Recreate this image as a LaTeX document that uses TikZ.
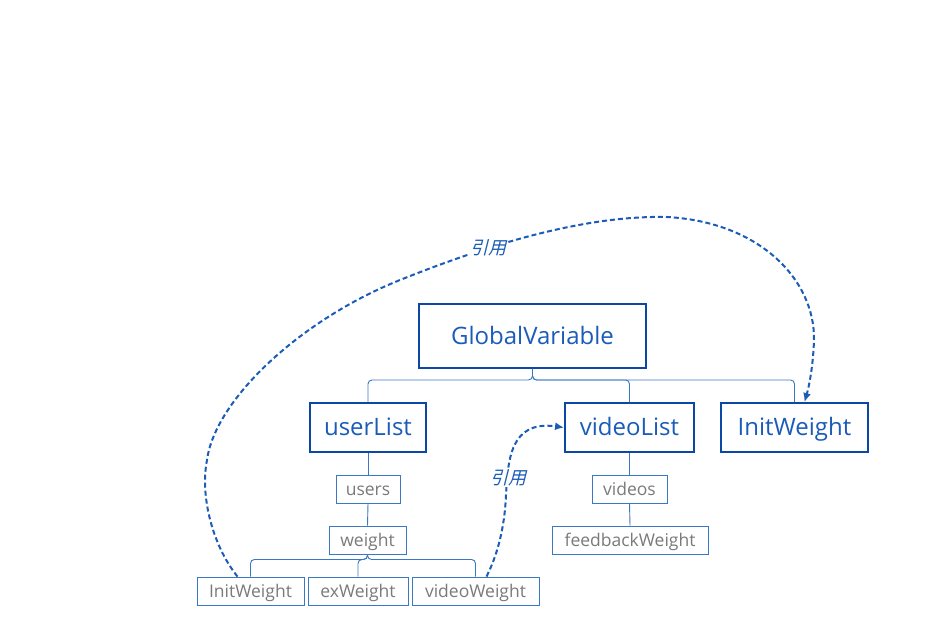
\documentclass[tikz,border=0pt]{standalone}
\usepackage{fontspec}
\setmainfont{Open Sans}
\newfontfamily\cjk[FakeSlant=0.25]{Noto Sans CJK SC}
\usetikzlibrary{arrows.meta,calc}
\definecolor{boxblue}{HTML}{0B47A6}
\definecolor{txtblue}{HTML}{1A5CB8}
\definecolor{lineblue}{HTML}{3A78C4}
\definecolor{txtgray}{HTML}{7A7A7A}
\tikzset{
  bigbox/.style={draw=boxblue,line width=1.9pt,text=txtblue,font=\fontsize{24}{27}\selectfont,inner sep=0pt,text height=20pt,text depth=4pt,anchor=center},
  smallbox/.style={draw=lineblue,line width=0.9pt,text=txtgray,font=\fontsize{17.5}{20}\selectfont,inner sep=0pt,text height=14pt,text depth=2pt,anchor=center},
  tree/.style={draw=lineblue,line width=0.9pt,rounded corners=4pt},
  ref/.style={draw=txtblue,line width=2pt,dash pattern=on 5pt off 3pt,-{Latex[length=9pt,width=8pt]}},
  reflabel/.style={text=txtblue,font=\cjk\fontsize{18}{20}\selectfont,fill=white,inner sep=0.5pt}
}
\begin{document}
\begin{tikzpicture}[x=1pt,y=-1pt]
\useasboundingbox[fill=white] (0,0) rectangle (951,622);
% main boxes
\node[bigbox,minimum width=227pt,minimum height=64pt] (gv) at (532.5,336) {GlobalVariable};
\node[bigbox,minimum width=116pt,minimum height=49pt] (ul) at (368,427.5) {userList};
\node[bigbox,minimum width=129pt,minimum height=49pt] (vl) at (629.5,427.5) {videoList};
\node[bigbox,minimum width=147pt,minimum height=49pt] (iw) at (794.5,427.5) {InitWeight};
% small boxes
\node[smallbox,minimum width=64pt,minimum height=28pt] (us) at (368,489) {users};
\node[smallbox,minimum width=77pt,minimum height=28pt] (wt) at (367.5,540) {weight};
\node[smallbox,minimum width=107pt,minimum height=28pt] (iw2) at (250.5,591) {InitWeight};
\node[smallbox,minimum width=100pt,minimum height=28pt] (ex) at (358,591) {exWeight};
\node[smallbox,minimum width=127pt,minimum height=28pt] (vw) at (475.5,591) {videoWeight};
\node[smallbox,minimum width=75pt,minimum height=28pt] (vs) at (629.5,489) {videos};
\node[smallbox,minimum width=156pt,minimum height=28pt] (fb) at (630,540) {feedbackWeight};
% tree lines
\draw[tree] (gv.south) -- ++(0,11) -| (ul.north);
\draw[tree] (gv.south) -- ++(0,11) -| (vl.north);
\draw[tree] (gv.south) -- ++(0,11) -| (iw.north);
\draw[tree] (ul.south) -- (us.north);
\draw[tree] (us.south) -- (wt.north);
\draw[tree] (wt.south) -- ++(0,5) -| (iw2.north);
\draw[tree] (wt.south) -- ++(0,5) -| (ex.north);
\draw[tree] (wt.south) -- ++(0,5) -| (vw.north);
\draw[tree] (vl.south) -- (vs.north);
\draw[tree] (vs.south) -- (fb.north);
% reference arrows
\draw[ref] ([xshift=-13pt]iw2.north) .. controls (212,545) and (200,495) .. (207,460)
  .. controls (215,400) and (300,320) .. (400,280)
  .. controls (480,248) and (580,215) .. (667,217)
  .. controls (760,222) and (815,280) .. (814,340)
  .. controls (813,370) and (808,390) .. ([xshift=10pt]iw.north);
\node[reflabel] (l1) at (488,248) {引用};
\draw[ref] ([xshift=11pt]vw.north) .. controls (500,550) and (505,520) .. (506,495)
  .. controls (508,460) and (510,420) .. (vl.west);
\node[reflabel] (l2) at (508,478) {引用};
\end{tikzpicture}
\end{document}
